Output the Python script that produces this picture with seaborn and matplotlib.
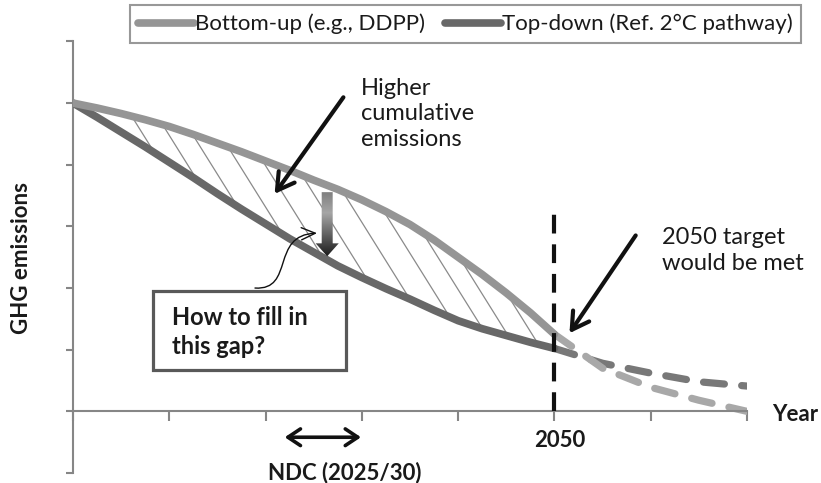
import numpy as np
import matplotlib
matplotlib.use("Agg")
import matplotlib.pyplot as plt
import seaborn as sns
from matplotlib.patches import Rectangle, FancyArrow, FancyArrowPatch
from matplotlib.path import Path
from matplotlib.lines import Line2D
from matplotlib.colors import LinearSegmentedColormap

# pathways (arbitrary emission units, x-axis at 0)
years = [2000, 2002.5, 2005, 2007.5, 2010, 2012.5, 2015, 2017.5, 2020, 2022.5, 2025,
         2027.5, 2030, 2032.5, 2035, 2037.5, 2040, 2042.5, 2045, 2047.5, 2050]
bottom_up = [5.0, 4.92, 4.83, 4.73, 4.62, 4.49, 4.35, 4.21, 4.06, 3.91, 3.75,
             3.60, 3.43, 3.24, 3.03, 2.78, 2.50, 2.22, 1.92, 1.60, 1.25]
top_down = [5.0, 4.77, 4.53, 4.29, 4.04, 3.79, 3.53, 3.28, 3.04, 2.80, 2.58,
            2.36, 2.17, 1.99, 1.82, 1.64, 1.47, 1.34, 1.23, 1.12, 1.02]

ext_years = [2050, 2055, 2060, 2065, 2070]
bottom_up_ext = [1.25, 0.70, 0.39, 0.18, 0.0]
top_down_ext = [1.02, 0.78, 0.62, 0.48, 0.41]

hatch_starts = [2006.1, 2009.3, 2012.4, 2016.1, 2019.6, 2023.8, 2028.0,
                2032.2, 2036.3, 2040.2, 2045.0]
hatch_slope = 0.25

x_ticks = [2000, 2010, 2020, 2030, 2040, 2050, 2060, 2070]
y_ticks = [-1, 0, 1, 2, 3, 4, 5, 6]
target_year = 2050
ndc_span = [2021.7, 2030.2]

labels = ["Bottom-up (e.g., DDPP)", "Top-down (Ref. 2°C pathway)"]

LIGHT = "#959595"
DARK = "#686868"
LIGHT_D = "#a8a8a8"
DARK_D = "#787878"
AXIS = "#868686"

sns.set_theme(style="white")
plt.rcParams["font.family"] = ["Lato", "DejaVu Sans"]

fig = plt.figure(figsize=(8.21, 4.83), dpi=100)
ax = fig.add_axes([73 / 821, 1 - 473 / 483, (747 - 73) / 821, (473 - 41.4) / 483])

# hatch lines between the two pathways
xs = np.linspace(2000, 2050, 2001)
lo = np.interp(xs, years, top_down)
for x0 in hatch_starts:
    y0 = np.interp(x0, years, bottom_up)
    yl = y0 - hatch_slope * (xs - x0)
    hit = np.where((xs > x0) & (yl <= lo))[0]
    if len(hit) == 0:
        continue
    x1 = xs[hit[0]]
    ax.plot([x0, x1], [y0, y0 - hatch_slope * (x1 - x0)], color="#8a8a8a", lw=0.9, zorder=1)

sns.lineplot(x=ext_years, y=top_down_ext, ax=ax, color=DARK_D, lw=5.2,
             linestyle=(0, (2.9, 2.4)), dash_capstyle="round", zorder=2)
sns.lineplot(x=ext_years, y=bottom_up_ext, ax=ax, color=LIGHT_D, lw=5.2,
             linestyle=(0, (2.9, 2.4)), dash_capstyle="round", zorder=2)
sns.lineplot(x=years, y=top_down, ax=ax, color=DARK, lw=5.5, solid_capstyle="round",
             solid_joinstyle="round", zorder=3)
sns.lineplot(x=years, y=bottom_up, ax=ax, color=LIGHT, lw=5.5, solid_capstyle="round",
             solid_joinstyle="round", zorder=3)

# 2050 vertical marker
ax.vlines(target_year, 0, 3.23, color="#111111", lw=3, linestyles=(0, (4.5, 2.6)), zorder=4)

# axes styling
ax.set_xlim(2000, 2070)
ax.set_ylim(-1, 6)
ax.set_xticks(x_ticks)
ax.set_yticks(y_ticks)
ax.set_xticklabels([])
ax.set_yticklabels([])
for side in ["top", "right"]:
    ax.spines[side].set_visible(False)
ax.spines["bottom"].set_position(("data", 0))
for side in ["left", "bottom"]:
    ax.spines[side].set_color(AXIS)
    ax.spines[side].set_linewidth(1.5)
ax.tick_params(axis="x", direction="out", length=7, width=1.5, color=AXIS, bottom=True)
ax.tick_params(axis="y", direction="out", length=5, width=1.5, color=AXIS, left=True)
ax.grid(False)

# gradient down arrow
arr = FancyArrow(2026.4, 3.555, 0, -1.04, width=1.14, head_width=2.4, head_length=0.21,
                 length_includes_head=True, facecolor="none", edgecolor="none", zorder=5)
ax.add_patch(arr)
grad = LinearSegmentedColormap.from_list("g", [(0, "#7a7a7a"), (0.35, "#a6a6a6"), (1, "#1a1a1a")])
im = ax.imshow(np.linspace(0, 1, 256).reshape(-1, 1), cmap=grad, aspect="auto",
               extent=[2024.9, 2027.9, 2.5, 3.6], origin="upper", zorder=5)
im.set_clip_path(arr)
ax.set_xlim(2000, 2070)
ax.set_ylim(-1, 6)

# black arrows
ax.add_patch(FancyArrowPatch((2028.25, 5.13), (2020.77, 3.49),
                             arrowstyle="->,head_length=0.6,head_width=0.35",
                             mutation_scale=20, lw=3, color="#111111", zorder=6))
ax.add_patch(FancyArrowPatch((2058.6, 2.89), (2051.4, 1.23),
                             arrowstyle="->,head_length=0.6,head_width=0.35",
                             mutation_scale=20, lw=3, color="#111111", zorder=6))
ax.add_patch(FancyArrowPatch((ndc_span[0], -0.42), (ndc_span[1], -0.42),
                             arrowstyle="<->,head_length=0.45,head_width=0.3",
                             mutation_scale=20, lw=2.6, color="#111111", clip_on=False, zorder=6))

# thin curved pointer from the question box
curve = Path([(2018.9, 2.0), (2023.06, 1.96), (2020.46, 2.86), (2025.34, 2.89)],
             [Path.MOVETO, Path.CURVE4, Path.CURVE4, Path.CURVE4])
ax.add_patch(FancyArrowPatch(path=curve, arrowstyle="->,head_length=0.5,head_width=0.22",
                             mutation_scale=20, lw=1, color="#111111", zorder=6))

# question box
ax.add_patch(Rectangle((2008.31, 0.666), 20.05, 1.282, facecolor="white",
                       edgecolor="#595959", lw=2.3, zorder=6))
ax.text(2010.3, 1.71, "How to fill in\nthis gap?", fontsize=17, fontweight="bold",
        color="#1a1a1a", ha="left", va="top", linespacing=1.33, zorder=7)

# text annotations
ax.text(2029.9, 5.41, "Higher\ncumulative\nemissions", fontsize=17, color="#1a1a1a",
        ha="left", va="top", linespacing=1.27)
ax.text(2061.2, 2.99, "2050 target\nwould be met", fontsize=17, color="#1a1a1a",
        ha="left", va="top", linespacing=1.3)
ax.text(2050.6, -0.30, "2050", fontsize=16, fontweight="bold", color="#1a1a1a",
        ha="center", va="top")
ax.text(2020.25, -0.82, "NDC (2025/30)", fontsize=16, fontweight="bold", color="#1a1a1a",
        ha="left", va="top", clip_on=False)
ax.text(2072.6, -0.15, "Year", fontsize=16, fontweight="bold", color="#1a1a1a",
        ha="left", va="baseline", clip_on=False)
fig.text(22 / 821, 1 - 258 / 483, "GHG emissions", fontsize=16, fontweight="bold",
         color="#1a1a1a", rotation=90, ha="center", va="center")

handles = [Line2D([], [], color=LIGHT, lw=5.5, solid_capstyle="round"),
           Line2D([], [], color=DARK, lw=5.5, solid_capstyle="round")]
leg = fig.legend(handles, labels, loc="upper center", bbox_to_anchor=(465.5 / 821, 1 - 5 / 483),
                 ncol=2, frameon=True, fancybox=False, fontsize=16, handlelength=2.5,
                 handletextpad=0.05, columnspacing=0.9, borderpad=0.4, borderaxespad=0)
leg.get_frame().set_edgecolor("#7f7f7f")
leg.get_frame().set_linewidth(1.5)
for t in leg.get_texts():
    t.set_color("#1a1a1a")

fig.savefig("out.png", dpi=100)
